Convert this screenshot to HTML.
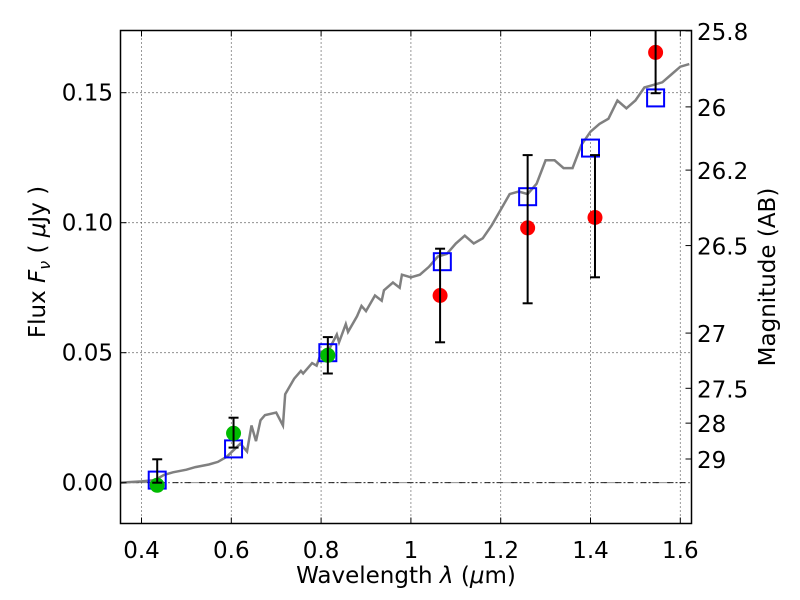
<!DOCTYPE html>
<html><head><meta charset="utf-8"><style>body{margin:0;background:#fff}svg{display:block;font-family:"DejaVu Sans","Liberation Sans",sans-serif}</style></head>
<body>
<svg id="chart" width="800" height="600">
<g id="grid"></g>
<g id="spec"></g>
<g id="marks"></g>
<rect x="120.5" y="30.5" width="571" height="493" fill="none" stroke="#000" stroke-width="1.5"/>
<g id="axes"></g>
<text x="406" y="583" font-size="23" text-anchor="middle">Wavelength  <tspan font-style="italic">λ</tspan> (<tspan font-style="italic">μ</tspan>m)</text>
<text transform="translate(45,262) rotate(-90)" font-size="23" text-anchor="middle">Flux  <tspan font-style="italic">F<tspan font-size="16" dy="5">ν</tspan></tspan><tspan dy="-5">  ( </tspan><tspan font-style="italic">μ</tspan>Jy )</text>
<text transform="translate(775,277) rotate(-90)" font-size="23" text-anchor="middle">Magnitude (AB)</text>
</svg>
<script>
const xTicks=[0.4,0.6,0.8,1.0,1.2,1.4,1.6];
const xTickLabels=["0.4","0.6","0.8","1","1.2","1.4","1.6"];
const yTicks=[0,0.05,0.10,0.15];
const yTickLabels=["0.00","0.05","0.10","0.15"];
const magTicks=[25.8,26,26.2,26.5,27,27.5,28,29];
const magTickLabels=["25.8","26","26.2","26.5","27","27.5","28","29"];
const specLam=[0.353,0.40,0.43,0.45,0.47,0.50,0.52,0.55,0.57,0.59,0.62,0.635,0.645,0.655,0.665,0.675,0.70,0.715,0.72,0.74,0.755,0.76,0.78,0.79,0.80,0.82,0.835,0.84,0.855,0.86,0.88,0.89,0.90,0.92,0.935,0.94,0.96,0.975,0.98,1.00,1.02,1.04,1.06,1.08,1.10,1.12,1.14,1.16,1.18,1.20,1.22,1.24,1.26,1.28,1.30,1.32,1.34,1.36,1.38,1.40,1.42,1.44,1.46,1.48,1.50,1.52,1.54,1.56,1.58,1.60,1.62];
const specFlux=[0.0,0.0005,0.001,0.003,0.004,0.005,0.006,0.007,0.008,0.010,0.015,0.012,0.022,0.016,0.024,0.026,0.027,0.022,0.034,0.040,0.043,0.042,0.046,0.045,0.050,0.052,0.057,0.054,0.061,0.058,0.064,0.068,0.066,0.072,0.070,0.074,0.077,0.075,0.080,0.079,0.080,0.083,0.087,0.088,0.092,0.095,0.092,0.094,0.099,0.105,0.111,0.112,0.111,0.115,0.124,0.124,0.121,0.121,0.130,0.135,0.138,0.140,0.147,0.144,0.147,0.152,0.153,0.154,0.157,0.160,0.161];
const redLam=[1.065,1.26,1.41,1.545];
const redFlux=[0.072,0.098,0.102,0.1655];
const redLo=[0.054,0.069,0.079,0.1498];
const redHi=[0.090,0.126,0.126,0.18];
const greenLam=[0.435,0.605,0.815];
const greenFlux=[-0.001,0.019,0.049];
const greenLo=[0.0,0.0135,0.042];
const greenHi=[0.009,0.025,0.056];
const blueLam=[0.435,0.605,0.815,1.07,1.26,1.40,1.545];
const blueFlux=[0.001,0.013,0.050,0.085,0.110,0.1287,0.148];

const NS="http://www.w3.org/2000/svg";
const X0=120.5,X1=691.5,Y0=30.5,Y1=523.5;
const xs=v=>141.5+(v-0.4)*449;
const ys=v=>482.7-v*2600;
const magToFlux=m=>Math.pow(10,-0.4*(m-23.9));
function mk(p,t,a){const e=document.createElementNS(NS,t);for(const k in a)e.setAttribute(k,a[k]);p.appendChild(e);return e;}
const grid=document.getElementById('grid'),axes=document.getElementById('axes'),marks=document.getElementById('marks'),spec=document.getElementById('spec');
xTicks.forEach((v,i)=>{const x=xs(v);
 const g=mk(grid,'line',{x1:x,x2:x,y1:Y0,y2:Y1,stroke:'#000','stroke-width':0.8,'stroke-dasharray':'1,3'});
 
 mk(axes,'line',{x1:x,x2:x,y1:Y1,y2:Y1-6,stroke:'#000'});mk(axes,'line',{x1:x,x2:x,y1:Y0,y2:Y0+6,stroke:'#000'});
 const t=mk(axes,'text',{x:x,y:558,'font-size':23,'text-anchor':'middle'});t.textContent=xTickLabels[i];
 });
yTicks.forEach((v,i)=>{const y=ys(v);
 const g=mk(grid,'line',{x1:X0,x2:X1,y1:y,y2:y,stroke:'#000','stroke-width':0.8,'stroke-dasharray':'1,3'});
 
 mk(axes,'line',{x1:X0,x2:X0+6,y1:y,y2:y,stroke:'#000'});
 const t=mk(axes,'text',{x:113,y:y+8,'font-size':23,'text-anchor':'end'});t.textContent=yTickLabels[i];
 });
const zl=mk(grid,'line',{x1:X0,x2:X1,y1:ys(0),y2:ys(0),stroke:'#000','stroke-width':0.8,'stroke-dasharray':'6,3,1,3'});

magTicks.forEach((m,i)=>{const y=ys(magToFlux(m));
 mk(axes,'line',{x1:X1,x2:X1-6,y1:y,y2:y,stroke:'#000'});
 const t=mk(axes,'text',{x:697,y:y+9,'font-size':23});t.textContent=magTickLabels[i];
 });
const sl=mk(spec,'polyline',{points:specLam.map((l,i)=>xs(l)+','+ys(specFlux[i])).join(' '),fill:'none',stroke:'#808080','stroke-width':2.5});

const cp=mk(marks,'clipPath',{id:'c'});mk(cp,'rect',{x:X0,y:Y0,width:571,height:493});
const mg=mk(marks,'g',{'clip-path':'url(#c)'});
function eb(x,lo,hi){mk(mg,'line',{x1:x,x2:x,y1:ys(lo),y2:ys(hi),stroke:'#000','stroke-width':2});
 [lo,hi].forEach(v=>mk(mg,'line',{x1:x-5,x2:x+5,y1:ys(v),y2:ys(v),stroke:'#000','stroke-width':2}));}
blueLam.forEach((l,i)=>{const r=mk(mg,'rect',{x:xs(l)-8.5,y:ys(blueFlux[i])-8.5,width:17,height:17,fill:'none',stroke:'#0000ff','stroke-width':2});
 });
greenLam.forEach((l,i)=>{const c=mk(mg,'circle',{cx:xs(l),cy:ys(greenFlux[i]),r:7.5,fill:'#00bb00'});
 eb(xs(l),greenLo[i],greenHi[i]);});
redLam.forEach((l,i)=>{const c=mk(mg,'circle',{cx:xs(l),cy:ys(redFlux[i]),r:7.5,fill:'#ff0000'});
 eb(xs(l),redLo[i],redHi[i]);});
</script>
</body></html>
